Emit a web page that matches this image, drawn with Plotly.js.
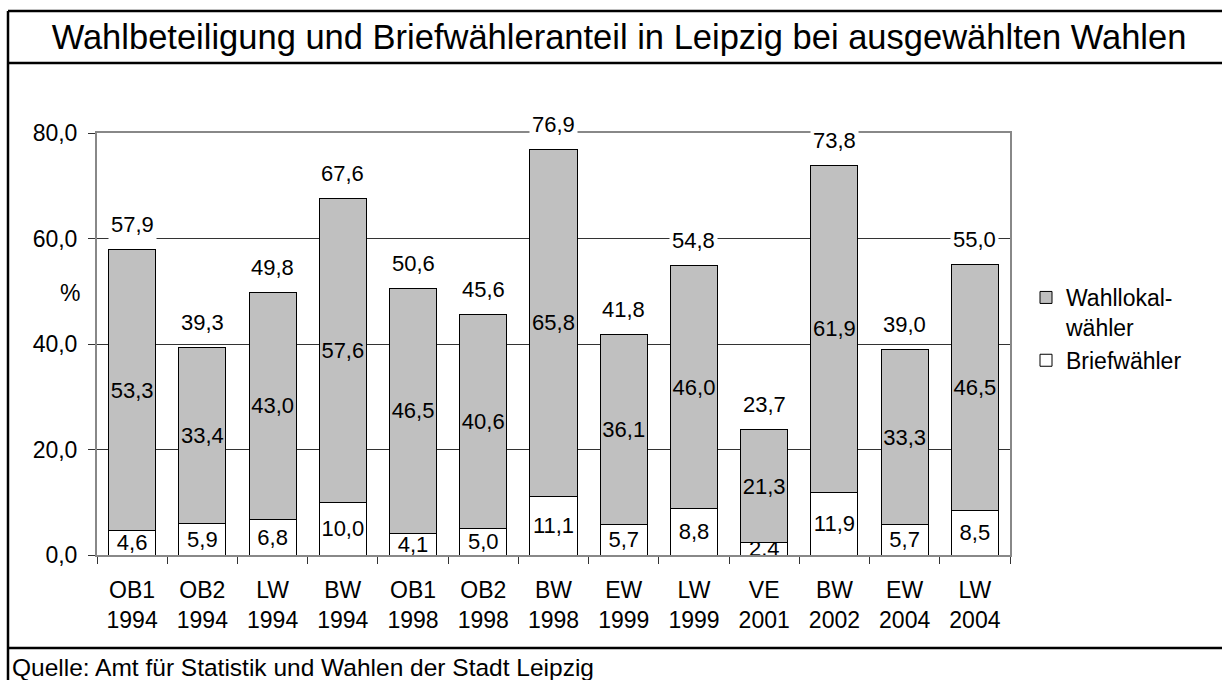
<!DOCTYPE html>
<html>
<head>
<meta charset="utf-8">
<script src="https://cdn.plot.ly/plotly-3.0.1.min.js"></script>
<style>
  html, body { margin: 0; padding: 0; background: #fff; }
  #chart { width: 1222px; height: 680px; }
</style>
</head>
<body>
<div id="chart"></div>
<script>
// Wahlbeteiligung und Briefwähleranteil, Leipzig
const WAHLEN = ['OB1', 'OB2', 'LW', 'BW', 'OB1', 'OB2', 'BW', 'EW', 'LW', 'VE', 'BW', 'EW', 'LW'];
const JAHRE = [1994, 1994, 1994, 1994, 1998, 1998, 1998, 1999, 1999, 2001, 2002, 2004, 2004];
const BRIEF = [4.6, 5.9, 6.8, 10.0, 4.1, 5.0, 11.1, 5.7, 8.8, 2.4, 11.9, 5.7, 8.5];
const WAHLLOKAL = [53.3, 33.4, 43.0, 57.6, 46.5, 40.6, 65.8, 36.1, 46.0, 21.3, 61.9, 33.3, 46.5];
const GESAMT = [57.9, 39.3, 49.8, 67.6, 50.6, 45.6, 76.9, 41.8, 54.8, 23.7, 73.8, 39.0, 55.0];

const FONT = 'Arial, "Liberation Sans", sans-serif';
const W = 1222, H = 680;
const M = { l: 97, r: 212, t: 133, b: 125 };

// pixel -> paper coords (for the frame and free texts)
const PW = W - M.l - M.r, PH = H - M.t - M.b;
const px = x => (x - M.l) / PW;
const py = y => (H - M.b - y) / PH;

const fmt = v => v.toFixed(1).replace('.', ',');
const cats = WAHLEN.map((w, i) => `${w}<br>${JAHRE[i]}`);

const segTrace = (name, vals, color) => ({
  type: 'bar', name, x: cats, y: vals,
  marker: { color, line: { color: '#000', width: 1 } },
  text: vals.map(fmt),
  textposition: 'inside', insidetextanchor: 'middle',
  textangle: 0, constraintext: 'none',
  textfont: { size: 22, color: '#000', family: FONT },
  hoverinfo: 'skip',
});

const traces = [
  segTrace('Briefwähler', BRIEF, '#ffffff'),
  segTrace('Wahllokal-<br>wähler', WAHLLOKAL, '#c0c0c0'),
];

const totals = GESAMT.map((v, i) => ({
  x: cats[i], y: v, xref: 'x', yref: 'y',
  text: fmt(v), showarrow: false,
  yanchor: 'middle', yshift: 25,
  bgcolor: '#fff', borderpad: 2,
  font: { size: 22, color: '#000', family: FONT },
}));

const frame = [
  [8, 11, 1240, 11], [8, 63, 1240, 63], [8, 648, 1240, 648], [8, 11, 8, 700],
].map(([x0, y0, x1, y1]) => ({
  type: 'line', xref: 'paper', yref: 'paper',
  x0: px(x0), y0: py(y0), x1: px(x1), y1: py(y1),
  line: { color: '#000', width: 2.5 },
}));

const layout = {
  width: W, height: H,
  margin: M,
  paper_bgcolor: '#fff', plot_bgcolor: '#fff',
  font: { family: FONT, color: '#000', size: 22 },
  separators: ', ',
  barmode: 'stack', bargap: 0.33,
  showlegend: true,
  title: {
    text: 'Wahlbeteiligung und Briefwähleranteil in Leipzig bei ausgewählten Wahlen',
    font: { size: 34.5, family: FONT, color: '#000' },
    xref: 'container', yref: 'container',
    x: 619 / W, xanchor: 'center', y: 1 - 37 / H, yanchor: 'middle',
  },
  xaxis: {
    type: 'category',
    showline: true, linecolor: '#888', linewidth: 2, mirror: true,
    ticks: 'outside', tickson: 'boundaries', ticklen: 7, tickcolor: '#333',
    ticklabelstandoff: 13,
    tickfont: { size: 23 },
    showgrid: false, fixedrange: true,
  },
  yaxis: {
    range: [0, 80], tickvals: [0, 20, 40, 60, 80], tickformat: '.1f',
    showline: true, linecolor: '#888', linewidth: 2, mirror: true,
    ticks: 'outside', ticklen: 7, tickcolor: '#333',
    ticklabelstandoff: 6,
    tickfont: { size: 23 },
    showgrid: true, gridcolor: '#333', gridwidth: 1,
    zeroline: false, fixedrange: true,
  },
  legend: {
    x: px(1026), xanchor: 'left', y: py(276), yanchor: 'top',
    traceorder: 'reversed', valign: 'top',
    font: { size: 23 }, bgcolor: 'rgba(0,0,0,0)', tracegroupgap: 2,
  },
  annotations: [
    ...totals,
    { xref: 'paper', yref: 'paper', x: px(58), y: py(293), text: '%', showarrow: false,
      font: { size: 23 } },
    { xref: 'paper', yref: 'paper', x: px(10), y: py(667), xanchor: 'left', yanchor: 'middle',
      text: 'Quelle: Amt für Statistik und Wahlen der Stadt Leipzig', showarrow: false,
      font: { size: 24.5 } },
  ],
  shapes: frame,
};

Plotly.newPlot('chart', traces, layout, { displayModeBar: false, staticPlot: true });
</script>
</body>
</html>
